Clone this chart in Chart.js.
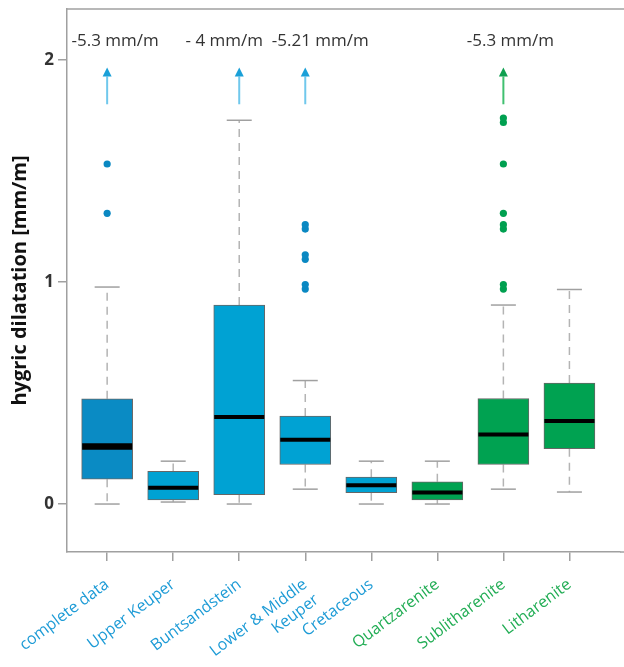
<!DOCTYPE html>
<html>
<head>
<meta charset="utf-8">
<script src="https://cdn.jsdelivr.net/npm/chart.js@4.4.1/dist/chart.umd.min.js"></script>
<style>
  body { margin: 0; background: #fff; }
</style>
</head>
<body>
<canvas id="grafico" width="624" height="667"></canvas>
<script>
// categorie e gruppo (formazioni blu, arenarie verdi)
const categories = ['complete data', 'Upper Keuper', 'Buntsandstein', ['Lower & Middle', 'Keuper'],
    'Cretaceous', 'Quartzarenite', 'Sublitharenite', 'Litharenite'];
const groups = ['all', 'formation', 'formation', 'formation', 'formation', 'sandstone', 'sandstone', 'sandstone'];

// statistiche dei box [mm/m]
const whiskerLow = [0.000, 0.009, 0.000, 0.067, 0.000, 0.000, 0.067, 0.054];
const q1 = [0.112, 0.019, 0.042, 0.178, 0.051, 0.019, 0.178, 0.249];
const median = [0.259, 0.073, 0.392, 0.289, 0.084, 0.052, 0.313, 0.374];
const q3 = [0.474, 0.147, 0.896, 0.396, 0.121, 0.100, 0.475, 0.545];
const whiskerHigh = [0.977, 0.193, 1.728, 0.556, 0.193, 0.193, 0.896, 0.966];

const outliers = [
    [1.309, 1.531],
    [],
    [],
    [0.968, 0.988, 1.102, 1.122, 1.238, 1.258],
    [],
    [],
    [0.968, 0.988, 1.238, 1.258, 1.309, 1.531, 1.718, 1.738],
    []
];

// valori estremi fuori scala
const extremes = ['-5.3 mm/m', null, '- 4 mm/m', '-5.21 mm/m', null, null, '-5.3 mm/m', null];

const yTicks = [0, 1, 2];

const blue = '#1d9bd6';
const green = '#22ad55';

function boxColor(i) {
    if (groups[i] === 'all') return '#0a8bc4';
    if (groups[i] === 'formation') return '#00a2d3';
    return '#00a251';
}

const boxData = categories.map((c, i) => ({ x: i, y: [q1[i], q3[i]] }));
const outlierData = [];
const outlierColors = [];
outliers.forEach((vals, i) => {
    vals.forEach((v) => {
        outlierData.push({ x: i, y: v });
        outlierColors.push(groups[i] === 'sandstone' ? '#00a050' : '#0a88c2');
    });
});

function line(ctx, x1, y1, x2, y2) {
    ctx.beginPath();
    ctx.moveTo(x1, y1);
    ctx.lineTo(x2, y2);
    ctx.stroke();
}

const boxPlotExtras = {
    id: 'boxPlotExtras',
    beforeDatasetsDraw(chart) {
        const { ctx, scales: { x, y } } = chart;
        ctx.save();
        categories.forEach((c, i) => {
            const px = x.getPixelForValue(i);
            const yHigh = y.getPixelForValue(whiskerHigh[i]);
            const yLow = y.getPixelForValue(whiskerLow[i]);
            ctx.strokeStyle = '#b4b4b4';
            ctx.lineWidth = 1.5;
            ctx.setLineDash([8, 6]);
            line(ctx, px, y.getPixelForValue(q3[i]), px, yHigh);
            line(ctx, px, y.getPixelForValue(q1[i]), px, yLow);
            ctx.setLineDash([]);
            ctx.strokeStyle = '#a0a0a0';
            line(ctx, px - 12.5, yHigh, px + 12.5, yHigh);
            line(ctx, px - 12.5, yLow, px + 12.5, yLow);
        });
        ctx.restore();
    },
    afterDatasetsDraw(chart) {
        const { ctx, scales: { x, y } } = chart;
        ctx.save();
        ctx.strokeStyle = '#000';
        categories.forEach((c, i) => {
            const px = x.getPixelForValue(i);
            const ym = y.getPixelForValue(median[i]);
            ctx.lineWidth = groups[i] === 'all' ? 6.5 : 4;
            line(ctx, px - 25, ym, px + 25, ym);
        });
        ctx.restore();
    },
    afterDraw(chart) {
        const { ctx, chartArea, scales: { x, y } } = chart;
        ctx.save();
        // cornice: bordo superiore e asse x fino al bordo
        ctx.strokeStyle = '#a0a0a0';
        ctx.lineWidth = 1.5;
        line(ctx, chartArea.left, chartArea.top, chart.width, chartArea.top);
        line(ctx, chartArea.right, chartArea.bottom, chart.width, chartArea.bottom);

        const nudge = { 0: 8, 2: -15, 3: 15, 6: 7 };
        ctx.font = '17px "Open Sans"';
        ctx.textAlign = 'center';
        ctx.textBaseline = 'middle';
        extremes.forEach((txt, i) => {
            if (!txt) return;
            const px = x.getPixelForValue(i);
            const isGreen = groups[i] === 'sandstone';
            const tip = y.getPixelForValue(1.966);
            const base = y.getPixelForValue(1.925);
            const bottom = y.getPixelForValue(1.8);
            ctx.strokeStyle = isGreen ? '#40c070' : '#70c8ec';
            ctx.lineWidth = 2;
            line(ctx, px, bottom, px, base);
            ctx.fillStyle = isGreen ? '#10a050' : '#1aa0d8';
            ctx.beginPath();
            ctx.moveTo(px, tip);
            ctx.lineTo(px - 4.5, base);
            ctx.lineTo(px + 4.5, base);
            ctx.closePath();
            ctx.fill();
            ctx.fillStyle = '#333';
            ctx.fillText(txt, px + (nudge[i] || 0), y.getPixelForValue(2.085));
        });
        ctx.restore();
    }
};

const ctx = document.getElementById('grafico').getContext('2d');
new Chart(ctx, {
    type: 'bar',
    data: {
        datasets: [{
            label: 'box',
            data: boxData,
            backgroundColor: categories.map((c, i) => boxColor(i)),
            borderColor: '#666',
            borderWidth: 1,
            borderSkipped: false,
            barThickness: 51,
            grouped: false,
        }, {
            type: 'scatter',
            label: 'outliers',
            data: outlierData,
            pointRadius: 3.6,
            pointBackgroundColor: outlierColors,
            pointBorderWidth: 0,
        }],
    },
    options: {
        responsive: false,
        animation: false,
        layout: { padding: { left: 8, top: 9, right: 0, bottom: 0 } },
        plugins: {
            legend: { display: false },
            tooltip: { enabled: false },
        },
        scales: {
            x: {
                type: 'linear',
                offset: false,
                min: -0.608,
                max: 7.766,
                afterBuildTicks: (axis) => { axis.ticks = categories.map((c, i) => ({ value: i })); },
                afterFit: (axis) => {
                    axis.height = 115;
                    axis.paddingLeft = 0;
                    axis.paddingRight = 0;
                },
                grid: { offset: false, drawOnChartArea: false, tickLength: 9, color: '#a0a0a0', lineWidth: 1.5 },
                border: { color: '#a0a0a0', width: 1.5 },
                ticks: {
                    autoSkip: false,
                    maxRotation: 37,
                    minRotation: 37,
                    padding: 14,
                    font: { family: 'Open Sans', size: 16 },
                    color: (c) => groups[c.index] === 'sandstone' ? green : blue,
                    callback: (v) => categories[v],
                },
            },
            y: {
                min: -0.216,
                max: 2.229,
                afterBuildTicks: (axis) => { axis.ticks = yTicks.map((v) => ({ value: v })); },
                afterFit: (axis) => {
                    axis.width = 59;
                    axis.paddingTop = 0;
                    axis.paddingBottom = 0;
                },
                grid: { drawOnChartArea: false, tickLength: 9, color: '#a0a0a0', lineWidth: 1.5 },
                border: { color: '#a0a0a0', width: 1.5 },
                ticks: {
                    padding: 4,
                    font: { family: 'Open Sans', size: 17, weight: 'bold' },
                    color: '#333',
                },
                title: {
                    display: true,
                    text: 'hygric dilatation [mm/m]',
                    font: { family: 'Open Sans', size: 20, weight: 'bold' },
                    color: '#111',
                    padding: 0,
                },
            },
        },
    },
    plugins: [boxPlotExtras],
});
</script>
</body>
</html>
